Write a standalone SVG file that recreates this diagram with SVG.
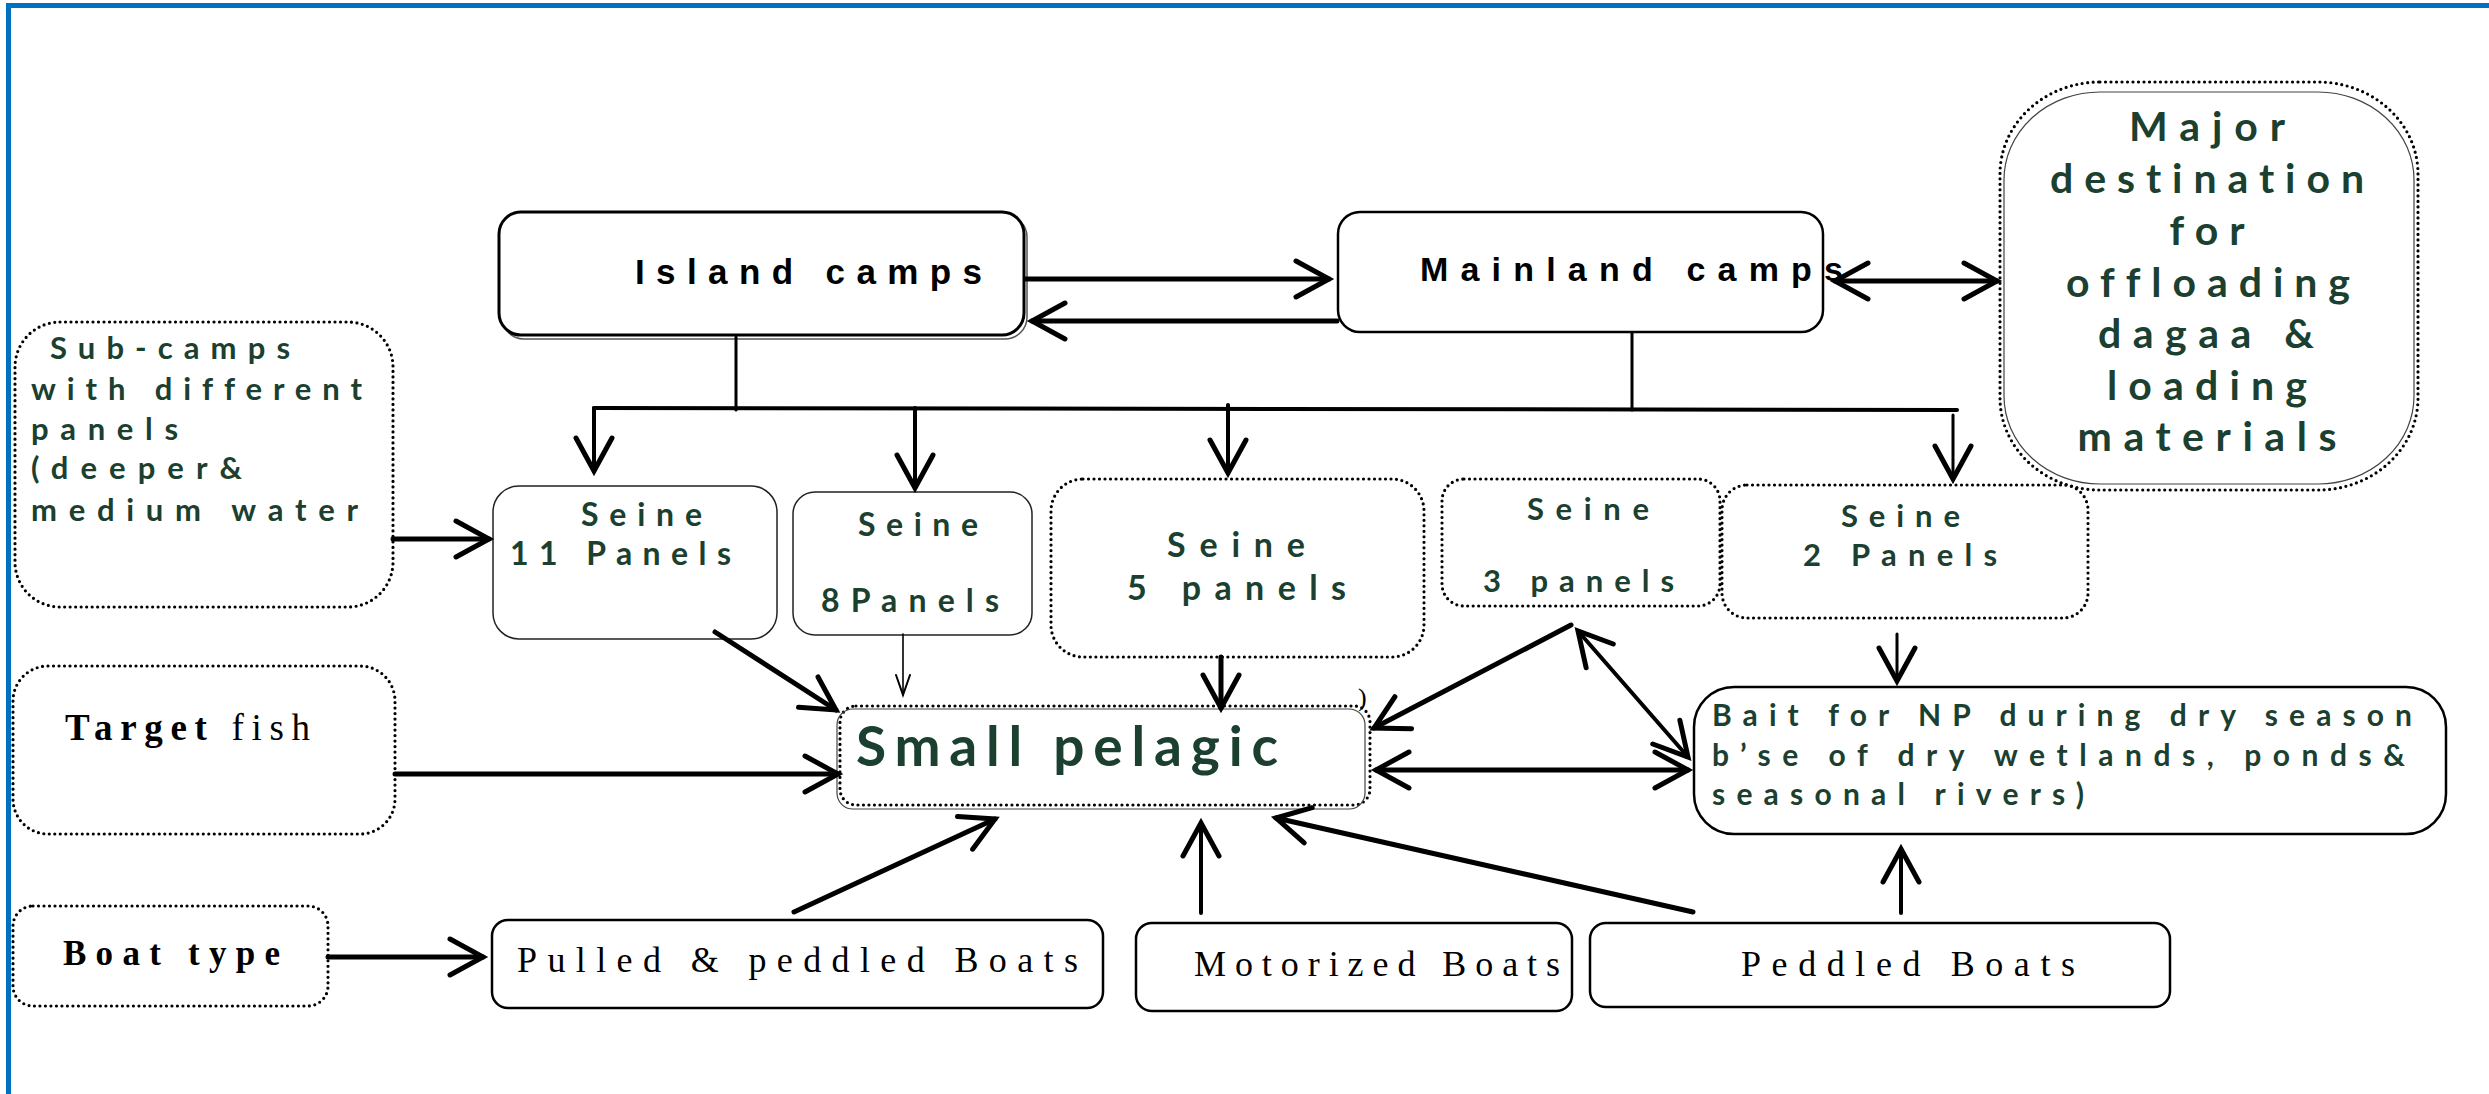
<svg xmlns="http://www.w3.org/2000/svg" width="2489" height="1094" viewBox="0 0 2489 1094">
<style>
text{font-variant-ligatures:none;font-feature-settings:"liga" 0}
.bg{fill:#fff}
.solid{fill:#fff;stroke:#000;stroke-width:2.5}
.thin{fill:#fff;stroke:#222;stroke-width:1.5}
.dot{fill:#fff;stroke:#000;stroke-width:3.2;stroke-dasharray:0 5.5;stroke-linecap:round}
.hair{fill:none;stroke:#444;stroke-width:1.2}
.g{font-family:Lato,"Open Sans",sans-serif;font-weight:bold;fill:#1b4030}
.k{font-family:"Liberation Sans",Arial,sans-serif;font-weight:bold;fill:#000}
.s{font-family:"Liberation Serif","Times New Roman",serif;fill:#000}
.c{fill:none;stroke:#000;stroke-linecap:round}
.w5{stroke-width:5}
.w4{stroke-width:4}
.w3{stroke-width:3}
.w15{stroke-width:1.6}
</style>
<defs>
<marker id="ah" markerUnits="userSpaceOnUse" markerWidth="80" markerHeight="80" viewBox="-40 -40 80 80" refX="0" refY="0" orient="auto-start-reverse" overflow="visible">
<path d="M-33,-18 L0,0 L-33,18" fill="none" stroke="#000" stroke-width="5" stroke-linecap="round" stroke-linejoin="miter"/>
</marker>
<marker id="ahs" markerUnits="userSpaceOnUse" markerWidth="40" markerHeight="40" viewBox="-20 -20 40 40" refX="0" refY="0" orient="auto" overflow="visible">
<path d="M-20,-7 L0,0 L-20,7" fill="none" stroke="#000" stroke-width="2" stroke-linecap="round"/>
</marker>
</defs>
<rect class="bg" x="0" y="0" width="2489" height="1094"/>
<g id="frame">
<line x1="6" y1="5.5" x2="2489" y2="5.5" stroke="#0070c0" stroke-width="5"/>
<line x1="8.5" y1="3" x2="8.5" y2="1094" stroke="#0070c0" stroke-width="5"/>
</g>

<g id="island-camps">
<rect x="502" y="215" width="525" height="124" rx="22" fill="none" stroke="#555" stroke-width="1.5"/>
<rect x="499" y="212" width="525" height="123" rx="22" fill="#fff" stroke="#000" stroke-width="3"/>
<text class="k" x="635" y="284" font-size="35" textLength="347" lengthAdjust="spacing">Island camps</text>
</g>

<g id="mainland-camps">
<rect class="solid" x="1338" y="212" width="485" height="120" rx="22"/>
<text class="k" x="1420" y="281" font-size="34" textLength="423" lengthAdjust="spacing">Mainland camps</text>
</g>

<g id="major-destination">
<rect class="dot" x="2000" y="82" width="418" height="408" rx="100" ry="92"/>
<rect class="hair" x="2004" y="92" width="410" height="392" rx="96" ry="88"/>
<g class="g" font-size="41" text-anchor="middle">
<text x="2207" y="141" textLength="156" lengthAdjust="spacing">Major</text>
<text x="2207" y="193" textLength="314" lengthAdjust="spacing">destination</text>
<text x="2207" y="245" textLength="75" lengthAdjust="spacing">for</text>
<text x="2208" y="297" textLength="284" lengthAdjust="spacing">offloading</text>
<text x="2206" y="348" textLength="216" lengthAdjust="spacing">dagaa &amp;</text>
<text x="2207" y="400" textLength="200" lengthAdjust="spacing">loading</text>
<text x="2207" y="451" textLength="259" lengthAdjust="spacing">materials</text>
</g>
</g>

<g id="sub-camps">
<rect class="dot" x="15" y="322" width="378" height="285" rx="45"/>
<g class="g" font-size="31">
<text x="50" y="359" textLength="240" lengthAdjust="spacing">Sub-camps</text>
<text x="31" y="400" textLength="331" lengthAdjust="spacing">with different</text>
<text x="31" y="440" textLength="147" lengthAdjust="spacing">panels</text>
<text x="31" y="479" textLength="211" lengthAdjust="spacing">(deeper&amp;</text>
<text x="31" y="521" textLength="327" lengthAdjust="spacing">medium water</text>
</g>
</g>

<g id="seine-11">
<rect class="thin" x="493" y="486" width="284" height="153" rx="26"/>
<text class="g" x="581" y="526" font-size="32" textLength="121" lengthAdjust="spacing">Seine</text>
<text class="g" x="510" y="565" font-size="32" textLength="221" lengthAdjust="spacing">11 Panels</text>
</g>

<g id="seine-8">
<rect class="thin" x="793" y="492" width="239" height="143" rx="22"/>
<text class="g" x="858" y="536" font-size="32" textLength="120" lengthAdjust="spacing">Seine</text>
<text class="g" x="821" y="612" font-size="32" textLength="178" lengthAdjust="spacing">8Panels</text>
</g>

<g id="seine-5">
<rect class="dot" x="1051" y="479" width="373" height="178" rx="32"/>
<text class="g" x="1167" y="557" font-size="34" textLength="138" lengthAdjust="spacing">Seine</text>
<text class="g" x="1127" y="600" font-size="34" textLength="219" lengthAdjust="spacing">5 panels</text>
</g>

<g id="seine-3">
<rect class="dot" x="1442" y="479" width="278" height="127" rx="22"/>
<text class="g" x="1527" y="520" font-size="31" textLength="122" lengthAdjust="spacing">Seine</text>
<text class="g" x="1483" y="592" font-size="31" textLength="191" lengthAdjust="spacing">3 panels</text>
</g>

<g id="seine-2">
<rect class="dot" x="1722" y="485" width="366" height="133" rx="25"/>
<text class="g" x="1841" y="527" font-size="31" textLength="119" lengthAdjust="spacing">Seine</text>
<text class="g" x="1803" y="566" font-size="31" textLength="194" lengthAdjust="spacing">2 Panels</text>
</g>

<g id="target-fish">
<rect class="dot" x="13" y="666" width="382" height="168" rx="35"/>
<text class="s" x="65" y="740" font-size="37" textLength="245" lengthAdjust="spacing"><tspan font-weight="bold">Target</tspan> fish</text>
</g>

<g id="small-pelagic">
<rect class="dot" x="840" y="706" width="530" height="99" rx="16"/>
<rect class="hair" x="837" y="709" width="528" height="100" rx="16"/>
<text class="g" x="856" y="766" font-size="55" textLength="422" lengthAdjust="spacing">Small pelagic</text>
<text x="1358" y="706" font-family="Liberation Serif,serif" font-size="26" fill="#000">)</text>
</g>

<g id="bait">
<rect class="solid" x="1694" y="687" width="752" height="147" rx="40"/>
<g class="g" font-size="30">
<text x="1712" y="726" textLength="700" lengthAdjust="spacing">Bait for NP during dry season</text>
<text x="1712" y="766" textLength="693" lengthAdjust="spacing">b’se of dry wetlands, ponds&amp;</text>
<text x="1712" y="805" textLength="372" lengthAdjust="spacing">seasonal rivers)</text>
</g>
</g>

<g id="boat-type">
<rect class="dot" x="13" y="906" width="315" height="100" rx="20"/>
<text class="s" x="63" y="965" font-size="35" font-weight="bold" textLength="217" lengthAdjust="spacing">Boat type</text>
</g>

<g id="pulled-boats">
<rect class="solid" x="492" y="920" width="611" height="88" rx="16"/>
<text class="s" x="517" y="972" font-size="36" textLength="561" lengthAdjust="spacing">Pulled &amp; peddled Boats</text>
</g>

<g id="motorized-boats">
<rect class="solid" x="1136" y="923" width="436" height="88" rx="16"/>
<text class="s" x="1194" y="976" font-size="36" textLength="366" lengthAdjust="spacing">Motorized Boats</text>
</g>

<g id="peddled-boats">
<rect class="solid" x="1590" y="923" width="580" height="84" rx="16"/>
<text class="s" x="1741" y="976" font-size="36" textLength="334" lengthAdjust="spacing">Peddled Boats</text>
</g>

<g id="connectors">
<line class="c w5" x1="1026" y1="279" x2="1329" y2="279" marker-end="url(#ah)"/>
<line class="c w5" x1="1337" y1="321" x2="1032" y2="321" marker-end="url(#ah)"/>
<line class="c w5" x1="1835" y1="281" x2="1997" y2="281" marker-start="url(#ah)" marker-end="url(#ah)"/>
<line class="c w3" x1="736" y1="337" x2="736" y2="410"/>
<line class="c w3" x1="1632" y1="333" x2="1632" y2="410"/>
<line class="c w4" x1="594" y1="408" x2="1957" y2="410"/>
<line class="c w4" x1="594" y1="408" x2="594" y2="471" marker-end="url(#ah)"/>
<line class="c w4" x1="915" y1="408" x2="915" y2="488" marker-end="url(#ah)"/>
<line class="c w4" x1="1228" y1="405" x2="1228" y2="473" marker-end="url(#ah)"/>
<line class="c w3" x1="1953" y1="415" x2="1953" y2="479" marker-end="url(#ah)"/>
<line class="c w5" x1="393" y1="539" x2="489" y2="539" marker-end="url(#ah)"/>
<line class="c w5" x1="715" y1="632" x2="836" y2="710" marker-end="url(#ah)"/>
<line class="c w15" x1="903" y1="634" x2="903" y2="695" marker-end="url(#ahs)"/>
<line class="c w5" x1="1221" y1="657" x2="1221" y2="708" marker-end="url(#ah)"/>
<line class="c w5" x1="395" y1="774" x2="838" y2="774" marker-end="url(#ah)"/>
<line class="c w5" x1="1571" y1="625" x2="1374" y2="728" marker-end="url(#ah)"/>
<line class="c w4" x1="1578" y1="631" x2="1688" y2="757" marker-start="url(#ah)" marker-end="url(#ah)"/>
<line class="c w5" x1="1376" y1="770" x2="1688" y2="770" marker-start="url(#ah)" marker-end="url(#ah)"/>
<line class="c w3" x1="1897" y1="634" x2="1897" y2="681" marker-end="url(#ah)"/>
<line class="c w5" x1="328" y1="957" x2="483" y2="957" marker-end="url(#ah)"/>
<line class="c w5" x1="794" y1="912" x2="995" y2="819" marker-end="url(#ah)"/>
<line class="c w4" x1="1201" y1="913" x2="1201" y2="823" marker-end="url(#ah)"/>
<line class="c w5" x1="1693" y1="912" x2="1276" y2="818" marker-end="url(#ah)"/>
<line class="c w4" x1="1901" y1="913" x2="1901" y2="849" marker-end="url(#ah)"/>
</g>
</svg>
